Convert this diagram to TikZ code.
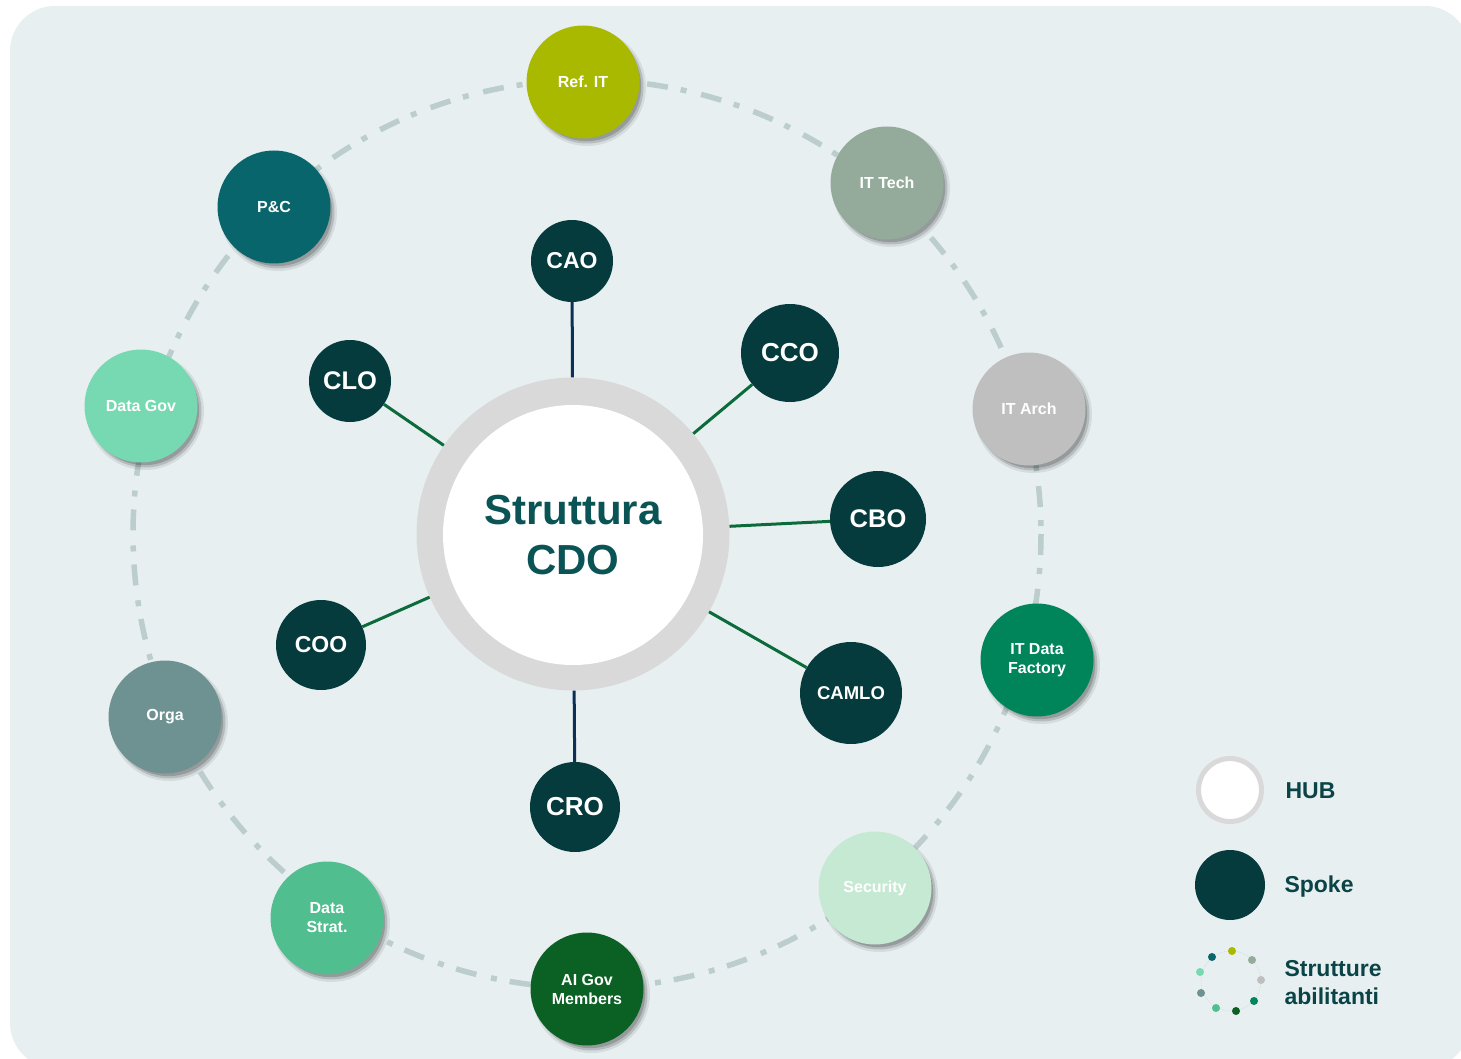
\documentclass[tikz,border=0pt]{standalone}
\usepackage{fontspec}
\setmainfont{Liberation Sans}
\usetikzlibrary{shadows}
\definecolor{bgc}{HTML}{E8EFF1}
\definecolor{ringc}{HTML}{BCCDCD}
\definecolor{hubring}{HTML}{D9D9D9}
\definecolor{hubtext}{HTML}{0B5456}
\definecolor{legtext}{HTML}{0A4446}
\definecolor{spokec}{HTML}{053B3D}
\definecolor{navyc}{HTML}{0B2F55}
\definecolor{greenc}{HTML}{0B6B3A}
\definecolor{cRef}{HTML}{A8B900}
\definecolor{cTech}{HTML}{94AB9C}
\definecolor{cArch}{HTML}{BFBFBF}
\definecolor{cDF}{HTML}{00845A}
\definecolor{cSec}{HTML}{C6E9D3}
\definecolor{cAI}{HTML}{0B6124}
\definecolor{cStrat}{HTML}{50BE8F}
\definecolor{cOrga}{HTML}{6E9292}
\definecolor{cGov}{HTML}{77D9B1}
\definecolor{cPC}{HTML}{08656B}
\tikzset{
  outer/.style={circle, minimum size=113pt, inner sep=0pt, text=white, align=center,
    font=\fontsize{16}{19}\selectfont\bfseries,
    drop shadow={shadow xshift=4pt, shadow yshift=-5pt, shadow scale=1.04, opacity=0.08, fill=black},
    drop shadow={shadow xshift=4pt, shadow yshift=-5pt, shadow scale=1.0, opacity=0.14, fill=black},
    drop shadow={shadow xshift=3.5pt, shadow yshift=-4.5pt, shadow scale=0.97, opacity=0.18, fill=black}},
  spoke/.style={circle, fill=spokec, inner sep=0pt, text=white, font=\bfseries},
  link/.style={line width=3pt, greenc},
  vlink/.style={line width=3pt, navyc},
  ring/.style={ringc, line width=5.5pt, dash pattern=on 21pt off 13pt on 6pt off 15pt},
  legtxt/.style={anchor=west, text=legtext, font=\fontsize{23}{28}\selectfont\bfseries, align=left},
  ldot/.style={circle, inner sep=0pt, minimum size=8pt}
}
\begin{document}
\begin{tikzpicture}[x=1pt, y=-1pt]
\useasboundingbox (0,0) rectangle (1461,1059);
\fill[bgc, rounded corners=45pt] (10,6) rectangle (1470,1068);
% ring
\draw[ring] (587,534) circle (454);
% hub
\node[circle, fill=hubring, minimum size=313pt, inner sep=0pt] (hub) at (573,534) {};
\node[circle, fill=white, minimum size=260pt, inner sep=0pt, text=hubtext, align=center,
  font=\fontsize{42}{50}\selectfont\bfseries] (hubin) at (573,535) {Struttura\\CDO};
% spokes
\node[spoke, minimum size=82pt, font=\fontsize{23}{26}\selectfont\bfseries] (cao) at (572,261) {CAO};
\node[spoke, minimum size=98pt, font=\fontsize{26}{28}\selectfont\bfseries] (cco) at (790,353) {CCO};
\node[spoke, minimum size=82pt, font=\fontsize{25.5}{28}\selectfont\bfseries] (clo) at (350,381) {CLO};
\node[spoke, minimum size=96pt, font=\fontsize{25.5}{28}\selectfont\bfseries] (cbo) at (878,519) {CBO};
\node[spoke, minimum size=90pt, font=\fontsize{23}{26}\selectfont\bfseries] (coo) at (321,645) {COO};
\node[spoke, minimum size=102pt, font=\fontsize{18.5}{22}\selectfont\bfseries] (camlo) at (851,693) {CAMLO};
\node[spoke, minimum size=90pt, font=\fontsize{26}{28}\selectfont\bfseries] (cro) at (575,807) {CRO};
% links
\draw[vlink] (cao) -- (hub);
\draw[vlink] (cro) -- (hub);
\draw[link] (cco) -- (hub);
\draw[link] (clo) -- (hub);
\draw[link] (cbo) -- (hub);
\draw[link] (coo) -- (hub);
\draw[link] (camlo) -- (hub);
% outer nodes
\node[outer, fill=cRef] (ref) at (583,82) {Ref. IT};
\node[outer, fill=cTech] (tech) at (887,183) {IT Tech};
\node[outer, fill=cArch] (arch) at (1029,409) {IT Arch};
\node[outer, fill=cDF] (df) at (1037,660) {IT Data\\Factory};
\node[outer, fill=cSec] (sec) at (875,888) {Security};
\node[outer, fill=cAI] (ai) at (587,989) {AI Gov\\Members};
\node[outer, fill=cStrat] (strat) at (327,918) {Data\\Strat.};
\node[outer, fill=cOrga] (orga) at (165,717) {Orga};
\node[outer, fill=cGov] (gov) at (141,406) {Data Gov};
\node[outer, fill=cPC] (pc) at (274,207) {P\&C};
% legend
\node[circle, draw=hubring, line width=5pt, fill=white, minimum size=63pt, inner sep=0pt] (lhub) at (1230,790) {};
\node[legtxt] (lhubt) at (1282,791) {HUB};
\node[circle, fill=spokec, minimum size=70pt, inner sep=0pt] (lspoke) at (1230,885) {};
\node[legtxt] (lspoket) at (1281,887) {Spoke};
\draw[ringc!80, line width=0.6pt, densely dotted] (1231,981) circle (30);
\node[ldot, fill=cRef] (d1) at (1232,951) {};
\node[ldot, fill=cTech] (d2) at (1252,960) {};
\node[ldot, fill=cArch] (d3) at (1261,980) {};
\node[ldot, fill=cDF] (d4) at (1254,1001) {};
\node[ldot, fill=cAI] (d5) at (1236,1011) {};
\node[ldot, fill=cStrat] (d6) at (1216,1008) {};
\node[ldot, fill=cOrga] (d7) at (1201,993) {};
\node[ldot, fill=cGov] (d8) at (1200,972) {};
\node[ldot, fill=cPC] (d9) at (1212,957) {};
\node[legtxt] (lstrt) at (1281,983) {Strutture\\abilitanti};
\end{tikzpicture}
\end{document}
